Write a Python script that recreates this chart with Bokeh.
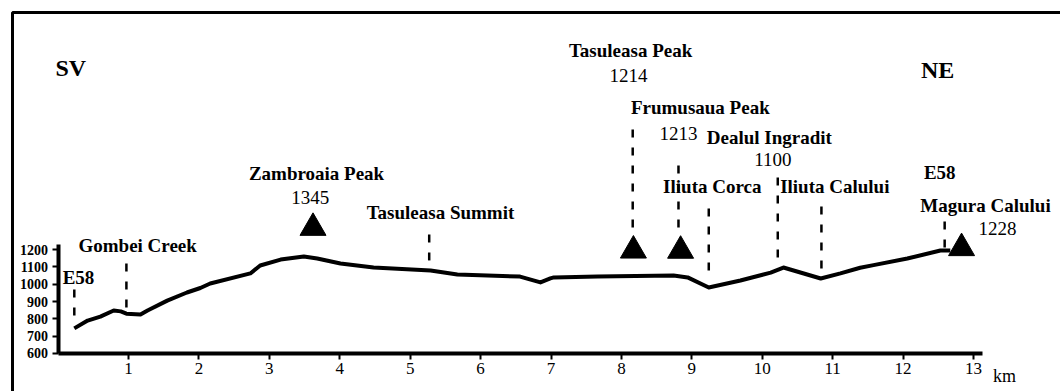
from bokeh.plotting import figure
from bokeh.models import FixedTicker, BoxAnnotation
from bokeh.core.properties import value
from bokeh.embed import file_html
from bokeh.resources import INLINE

# ---------------- data ----------------
profile_km = [0.23, 0.42, 0.60, 0.79, 0.89, 0.97, 1.17, 1.27, 1.55, 1.83, 2.02, 2.16,
              2.73, 2.87, 3.16, 3.49, 3.68, 4.01, 4.48, 5.29, 5.67, 6.56, 6.85, 6.99,
              7.04, 7.66, 8.74, 8.94, 9.24, 9.69, 10.12, 10.30, 10.83, 11.11, 11.39,
              11.58, 12.06, 12.53, 12.67]
profile_elev = [745, 790, 813, 848, 843, 830, 825, 848, 905, 952, 978, 1004,
                1062, 1108, 1142, 1160, 1148, 1119, 1096, 1079, 1056, 1044, 1010, 1033,
                1039, 1044, 1050, 1039, 981, 1021, 1067, 1096, 1033, 1062, 1095,
                1110, 1148, 1194, 1194]

peak_names = ["Zambroaia Peak", "Tasuleasa Peak", "Frumusaua Peak", "Magura Calului"]
peak_km = [3.62, 8.17, 8.84, 12.83]
peak_elev = [1345, 1214, 1213, 1228]

point_names = ["E58", "Gombei Creek", "Tasuleasa Summit", "Tasuleasa Peak", "Frumusaua Peak",
               "Iliuta Corca", "Dealul Ingradit", "Iliuta Calului", "E58"]
point_km = [0.23, 0.97, 5.27, 8.16, 8.81, 9.24, 10.22, 10.84, 12.59]

x_ticks = [1, 2, 3, 4, 5, 6, 7, 8, 9, 10, 11, 12, 13]
y_ticks = [600, 700, 800, 900, 1000, 1100, 1200]
directions = ["SV", "NE"]
unit_label = ["km"]

# ---------------- layout (positions of annotations) ----------------
point_top = [975, 1125, 1298, 1944, 1725, 1466, 1667, 1494, 1385]
point_bottom = [819, 865, 1137, 1327, 1327, 1079, 1154, 1090, 1212]

name_text = ["E58", "Gombei Creek", "Zambroaia Peak", "Tasuleasa Summit", "Tasuleasa Peak",
             "Frumusaua Peak", "Dealul Ingradit", "Iliuta Corca", "Iliuta Calului",
             "E58", "Magura Calului"]
name_x = [0.29, 1.13, 3.67, 5.43, 8.13, 9.12, 10.10, 9.29, 11.03, 12.52, 13.17]
name_y = [1039, 1223, 1639, 1414, 2348, 2019, 1846, 1564, 1564, 1644, 1454]

num_text = ["1345", "1214", "1213", "1100", "1228"]
num_x = [3.58, 8.10, 8.81, 10.15, 13.34]
num_y = [1500, 2204, 1870, 1719, 1321]

dir_x = [0.18, 12.49]
dir_y = [2245, 2233]

SERIF = value("Liberation Serif")

# frame fills the whole canvas; axes are pinned at km 0 / 600 m
p = figure(width=1060, height=391, output_backend="svg", toolbar_location=None,
           x_range=(-0.818, 14.235), y_range=(380.7, 2636.9),
           min_border_left=0, min_border_right=0, min_border_top=0, min_border_bottom=0)
p.outline_line_color = None
p.xgrid.visible = False
p.ygrid.visible = False
p.background_fill_color = "white"
p.border_fill_color = "white"

# picture frame (only its left/top edges fall inside the window)
p.add_layout(BoxAnnotation(left=12, right=3000, top=12, bottom=3000,
                           left_units="canvas", right_units="canvas",
                           top_units="canvas", bottom_units="canvas",
                           fill_color=None, fill_alpha=0,
                           line_color="black", line_alpha=1.0, line_width=3))

# elevation profile
p.line(profile_km, profile_elev, line_color="black", line_width=4, line_join="round")

# dashed location markers
p.segment(x0=point_km, y0=point_bottom, x1=point_km, y1=point_top,
          line_color="black", line_width=2.5, line_dash="8 10")

# peak triangles (centroid slightly below the summit value)
p.scatter(peak_km, [e - 20 for e in peak_elev], marker="triangle",
          size=26, fill_color="black", line_color="black")

# labels
p.text(name_x, name_y, text=name_text, text_align="center", text_baseline="middle",
       text_font=SERIF, text_font_style="bold", text_font_size="19px", text_color="black")
p.text(num_x, num_y, text=num_text, text_align="center", text_baseline="middle",
       text_font=SERIF, text_font_size="19px", text_color="black")
p.text(dir_x, dir_y, text=directions, text_align="center", text_baseline="middle",
       text_font=SERIF, text_font_style="bold", text_font_size="24px", text_color="black")
p.text([13.44], [473], text=unit_label, text_align="center", text_baseline="middle",
       text_font=SERIF, text_font_size="18px", text_color="black")

# axes
xa = p.xaxis[0]
xa.fixed_location = 600
xa.ticker = FixedTicker(ticks=x_ticks)
xa.bounds = (0, 13.13)
xa.axis_line_width = 4
xa.axis_line_color = "black"
xa.major_tick_line_width = 2
xa.major_tick_line_color = "black"
xa.major_tick_in = 0
xa.major_tick_out = 6
xa.minor_tick_line_color = None
xa.major_label_standoff = 4
xa.major_label_text_font = "Liberation Serif"
xa.major_label_text_font_size = "17px"
xa.major_label_text_color = "black"

ya = p.yaxis[0]
ya.fixed_location = 0
ya.ticker = FixedTicker(ticks=y_ticks)
ya.bounds = (600, 1230)
ya.axis_line_width = 4
ya.axis_line_color = "black"
ya.major_tick_line_width = 2
ya.major_tick_line_color = "black"
ya.major_tick_in = 0
ya.major_tick_out = 6
ya.minor_tick_line_color = None
ya.major_label_standoff = 4
ya.major_label_text_font = "Liberation Serif"
ya.major_label_text_font_style = "bold"
ya.major_label_text_font_size = "14px"
ya.major_label_text_color = "black"

open("out.html", "w").write(file_html(p, INLINE))
